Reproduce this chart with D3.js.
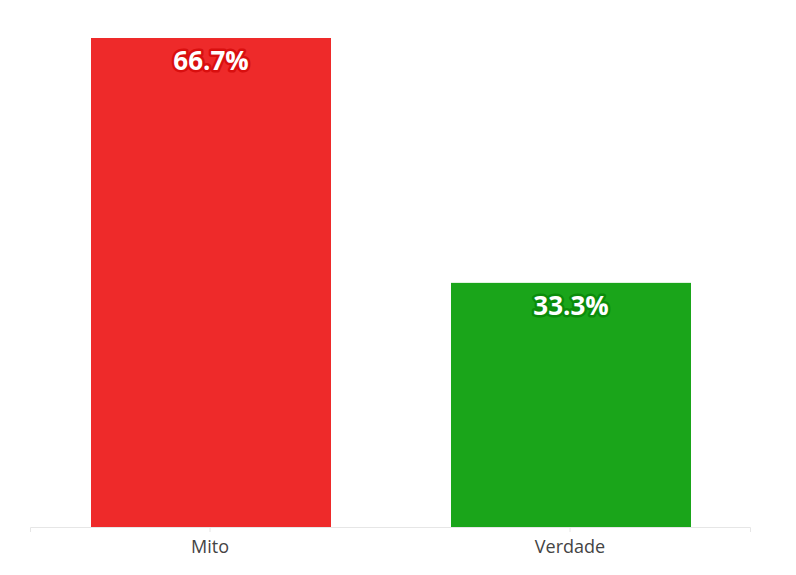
<!DOCTYPE html>
<meta charset="utf-8" />
<script src="https://d3js.org/d3.v7.js"></script>
<style>
	body { margin: 0; background: #fff; }
	.axis text { font-family: "Open Sans", sans-serif; font-size: 18px; fill: #444; }
	.axis path, .axis line { stroke: #e6e6e6; }
	.value-label { font-family: "Open Sans", sans-serif; font-weight: 700; font-size: 26px; }
</style>
<div id="chart"></div>
<script>
	// Data
	const categories = ["Mito", "Verdade"];
	const values = [66.7, 33.3];
	const colors = ["#ee2a2a", "#1aa51a"];
	const outlines = ["#d90f0f", "#0b8c0b"];

	const width = 796, height = 575;
	const margin = { top: 38, right: 46, bottom: 48, left: 30 };

	const svg = d3.select("#chart").append("svg")
		.attr("width", width)
		.attr("height", height);

	const x = d3.scaleBand()
		.domain(categories)
		.range([margin.left, width - margin.right])
		.paddingInner(1 / 3)
		.paddingOuter(1 / 6);

	const y = d3.scaleLinear()
		.domain([0, d3.max(values)])
		.range([height - margin.bottom, margin.top]);

	// Bars
	svg.selectAll("rect.bar")
		.data(categories)
		.enter()
		.append("rect")
		.attr("class", "bar")
		.attr("x", d => x(d) + 1)
		.attr("y", (d, i) => y(values[i]))
		.attr("width", x.bandwidth())
		.attr("height", (d, i) => y(0) - y(values[i]))
		.attr("fill", (d, i) => colors[i]);

	// x axis
	const xAxis = svg.append("g")
		.attr("class", "axis")
		.attr("transform", "translate(0," + y(0) + ")")
		.call(d3.axisBottom(x).tickSizeOuter(0).tickSize(5).tickPadding(8));
	xAxis.select(".domain").attr("stroke", "#e6e6e6");

	// Value labels with outline
	svg.selectAll("text.value-label")
		.data(categories)
		.enter()
		.append("text")
		.attr("class", "value-label")
		.attr("x", d => x(d) + 1 + x.bandwidth() / 2)
		.attr("y", (d, i) => y(values[i]) + 32)
		.attr("text-anchor", "middle")
		.attr("fill", "#fff")
		.attr("stroke", (d, i) => outlines[i])
		.attr("stroke-width", 5)
		.attr("stroke-linejoin", "round")
		.attr("paint-order", "stroke")
		.text((d, i) => values[i].toFixed(1) + "%");
</script>
